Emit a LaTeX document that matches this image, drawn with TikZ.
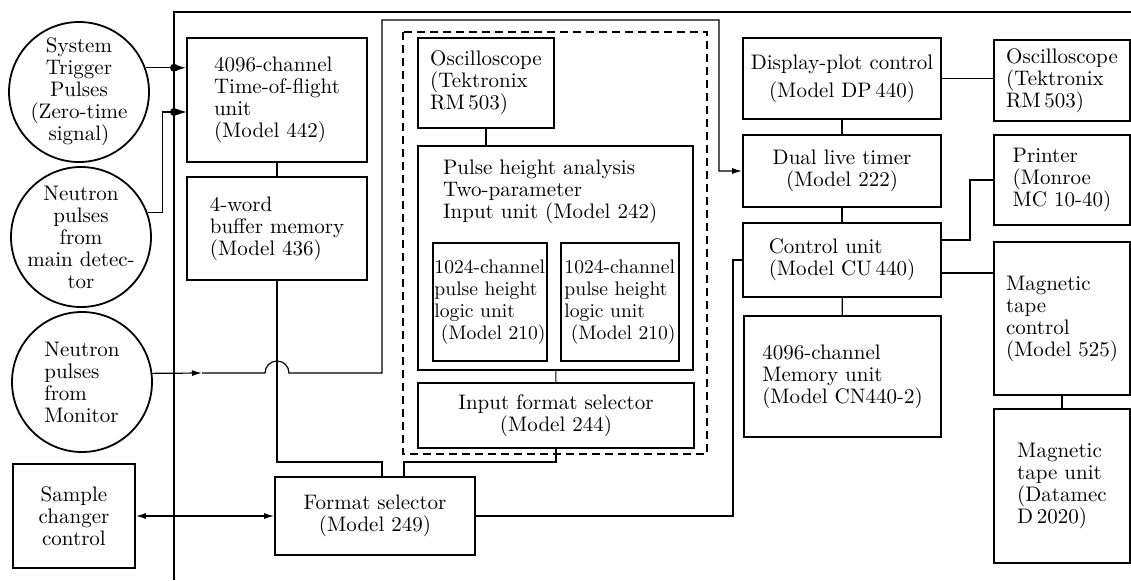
\documentclass[tikz,border=0pt]{standalone}
\usetikzlibrary{arrows.meta}
\begin{document}
\begin{tikzpicture}[x=0.5pt,y=-0.5pt,
    font=\fontsize{10.5}{11}\selectfont,
    >={Latex[length=5pt,width=3pt]},
    blk/.style={draw, line width=0.9pt, inner sep=0pt, align=left},
    boxsize/.style 2 args={minimum width=#1, minimum height=#2},
    src/.style={draw, circle, line width=0.9pt, minimum size=70pt, inner sep=0pt},
    small/.style={font=\fontsize{9.8}{11}\selectfont}]
  \useasboundingbox (0,0) rectangle (1131,580);
  % frame and bus
  \draw[line width=0.9pt] (174,580) -- (174,12) -- (1131,12);
  \coordinate (bus) at (174,12);
  % input pulses
  \node[src, label={[align=center]center:System\\Trigger\\Pulses\\(Zero-time\\signal)}] (trig) at (79,92) {};
  \node[src, label={[align=center]center:Neutron\\pulses\\from\\main detec-\\tor}] (det) at (81,237) {};
  \node[src, label={[align=left]center:Neutron\\pulses\\from\\Monitor}] (mon) at (82,382) {};
  \node[blk, align=center, boxsize={61pt}{52pt}] (scc) at (74,516) {Sample\\changer\\control};
  % left column
  \node[blk, boxsize={90pt}{62pt}] (tof) at (277,100) {4096-channel\\Time-of-flight\\unit\\(Model 442)};
  \node[blk, boxsize={90pt}{51.5pt}] (buf) at (277,228.5) {4-word\\buffer memory\\(Model 436)};
  \node[blk, align=center, boxsize={100pt}{39pt}] (fmt) at (375,516) {Format selector\\(Model 249)};
  % pulse height analysis group
  \draw[dashed, dash pattern=on 4pt off 2.5pt, line width=0.6pt] (403,32) rectangle (707,454);
  \node[blk, boxsize={68pt}{45pt}] (osc1) at (486,83) {Oscilloscope\\(Tektronix\\RM\,503)};
  \node[blk, boxsize={137.5pt}{112pt}] (pha) at (555.5,258) {};
  \node[anchor=north west, align=left] (pha-t) at (436,153)
    {Pulse height analysis\\Two-parameter\\Input unit (Model 242)};
  \node[blk, small, boxsize={57pt}{59pt}] (p1) at (490,302) {1024-channel\\pulse height\\logic unit\\\ (Model 210)};
  \node[blk, small, boxsize={59pt}{59pt}] (p2) at (620,302) {1024-channel\\pulse height\\logic unit\\\ (Model 210)};
  \node[blk, align=center, boxsize={138pt}{32.5pt}] (ifs) at (556,415.5) {Input format selector\\(Model 244)};
  % right columns
  \node[blk, align=center, boxsize={99pt}{40.5pt}] (dpc) at (842,78.5) {Display-plot control\\[3pt](Model DP\,440)};
  \node[blk, align=center, boxsize={99pt}{36pt}] (dlt) at (842,171) {Dual live timer\\(Model 222)};
  \node[blk, boxsize={99pt}{37pt}] (cu) at (842,260) {Control unit\\(Model CU\,440)};
  \node[blk, boxsize={98.5pt}{60.5pt}] (mem) at (842.5,376.5) {4096-channel\\Memory unit\\(Model CN440-2)};
  \node[blk, boxsize={68pt}{40.5pt}] (osc2) at (1062,80.5) {Oscilloscope\\(Tektronix\\RM\,503)};
  \node[blk, boxsize={68pt}{45pt}] (prn) at (1062,180) {Printer\\(Monroe\\MC 10-40)};
  \node[blk, boxsize={68pt}{76.5pt}] (mtc) at (1062,318.5) {Magnetic\\tape\\control\\(Model 525)};
  \node[blk, boxsize={68pt}{77pt}] (mtu) at (1062,486) {Magnetic\\tape unit\\(Datamec\\D\,2020)};
  \coordinate (tin) at (187,112);
  \coordinate (f1) at (382,462);
  \coordinate (f2) at (404,462);
  \coordinate (m0) at (202,373);
  \begin{scope}[line width=0.6pt]
    \draw[->] (trig.20) -- (trig.20 -| tof.west);
    \draw[->] (det.20) -- ++(15,0) |- (tin);
    \fill (trig.20 -| bus) circle[radius=2pt];
    \fill (tin -| bus) circle[radius=2pt];
    \draw (tof) -- (buf);
    \draw (buf.south) |- (f1) -- (f1 |- fmt.north);
    \draw (ifs.south) |- (f2) -- (f2 |- fmt.north);
    \draw[->] (mon.7) -- (m0);
    \draw[->] (m0) -- (265,373) arc[start angle=180, end angle=360, radius=12]
      -- (382,373) |- (719,20) |- (dlt.west);
    \draw[<->] (scc.east) -- (scc.east -| fmt.west);
    \draw (fmt.east) -- ++(257,0) |- (cu.west);
    \draw (osc1) -- (osc1 |- pha.north);
    \draw (pha) -- (ifs);
    \draw (dpc) -- (dlt);
    \draw (dlt) -- (cu);
    \draw (cu) -- (mem);
    \draw (dpc.east) -- (dpc.east -| osc2.west);
    \draw ([yshift=10pt]cu.east) -- ++(28,0) |- (prn.west);
    \draw ([yshift=-6.5pt]cu.east) -- ([yshift=-6.5pt]cu.east -| mtc.west);
    \draw (mtc) -- (mtu);
  \end{scope}
\end{tikzpicture}
\end{document}
